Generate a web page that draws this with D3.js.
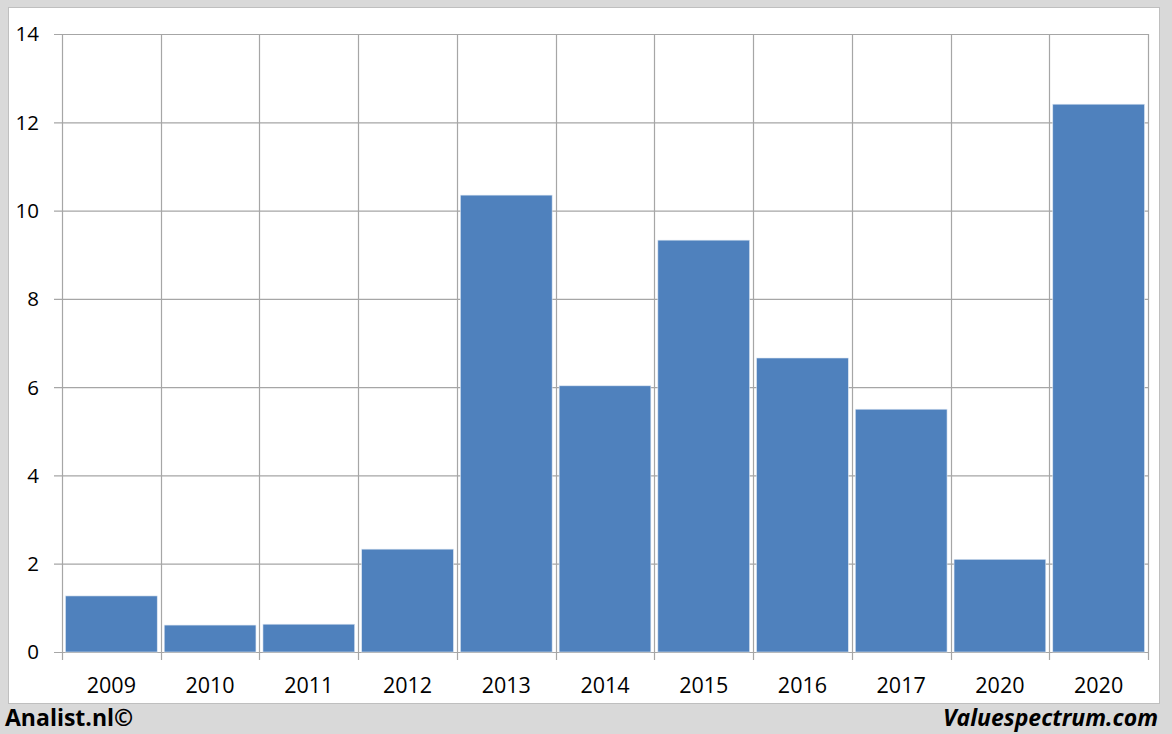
<!DOCTYPE html>
<html><head><meta charset="utf-8">
<script src="https://cdn.jsdelivr.net/npm/d3@7/dist/d3.min.js"></script>
<style>body{margin:0;background:#d9d9d9;}svg{display:block;}</style>
</head><body>
<svg id="c" width="1172" height="734"></svg>
<script>
const categories = ["2009","2010","2011","2012","2013","2014","2015","2016","2017","2020","2020 "];
const values = [1.27,0.61,0.63,2.33,10.35,6.03,9.33,6.66,5.5,2.1,12.41];
const yTicks = [0,2,4,6,8,10,12,14];

const svg = d3.select("#c");
svg.append("rect").attr("width",1172).attr("height",734).attr("fill","#d9d9d9");
svg.append("rect").attr("x",8.5).attr("y",7.5).attr("width",1151).attr("height",696)
  .attr("fill","#fff").attr("stroke","#bfbfbf");

const L=62,R=1148,T=34,B=652;
const x = d3.scaleBand().domain(categories).range([L,R]).paddingInner(0).paddingOuter(0);
const y = d3.scaleLinear().domain([0,14]).range([B,T]);

const g = svg.append("g");
g.selectAll(".h").data(yTicks).join("line")
  .attr("x1",L-8).attr("x2",R).attr("y1",d=>y(d)+0.5).attr("y2",d=>y(d)+0.5)
  .attr("stroke","#a6a6a6").attr("stroke-width",1.2);
const bounds = categories.map(c=>x(c)).concat([R]);
g.selectAll(".v").data(bounds).join("line")
  .attr("x1",d=>Math.round(d)+0.5).attr("x2",d=>Math.round(d)+0.5)
  .attr("y1",T).attr("y2",B+8)
  .attr("stroke","#a6a6a6").attr("stroke-width",1.2);

const pad = 3.5;
g.selectAll(".bar").data(values).join("rect")
  .attr("x",(d,i)=>x(categories[i])+pad)
  .attr("width",x.bandwidth()-2*pad)
  .attr("y",d=>y(d)).attr("height",d=>B-y(d))
  .attr("fill","#4f81bd").attr("stroke","#dce6f2").attr("stroke-width",0.6);

const FF="'Open Sans', 'Liberation Sans', sans-serif";
svg.selectAll(".yl").data(yTicks).join("text")
  .attr("x",39).attr("y",d=>y(d)).attr("dy","0.36em").attr("text-anchor","end")
  .attr("font-family",FF).attr("font-size",20.5)
  .attr("fill","#000").text(d=>d);
svg.selectAll(".xl").data(categories).join("text")
  .attr("x",d=>x(d)+x.bandwidth()/2).attr("y",685).attr("dy","0.36em").attr("text-anchor","middle")
  .attr("font-family",FF).attr("font-size",21.5)
  .attr("fill","#000").text(d=>d.trim());

svg.append("text").attr("x",5).attr("y",718).attr("dy","0.36em")
  .attr("font-family",FF).attr("font-weight","bold").attr("font-size",23)
  .text("Analist.nl©");
svg.append("text").attr("x",1158).attr("y",718).attr("dy","0.36em").attr("text-anchor","end")
  .attr("font-family",FF).attr("font-weight","bold").attr("font-style","italic").attr("font-size",23)
  .text("Valuespectrum.com");
</script>
</body></html>
